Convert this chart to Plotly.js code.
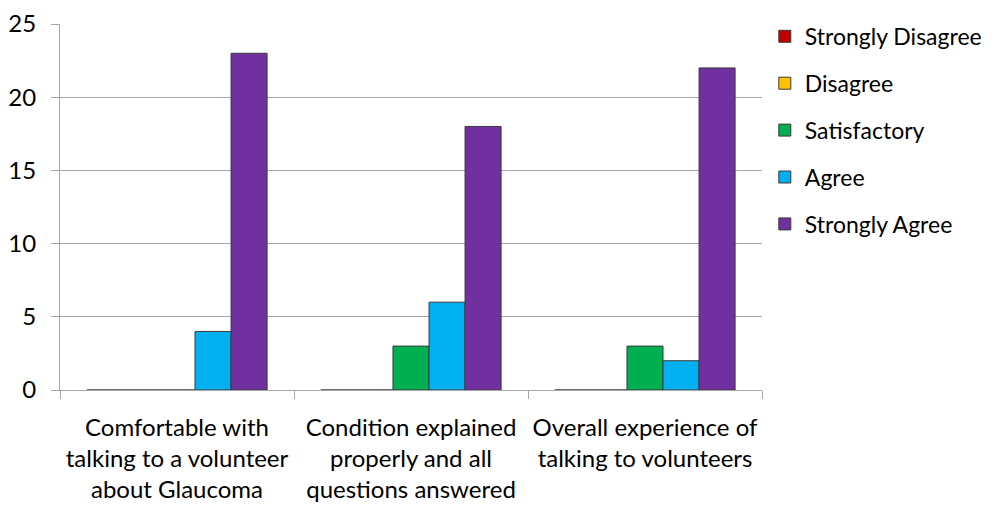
<!DOCTYPE html>
<html><head><meta charset="utf-8">
<script src="https://cdn.plot.ly/plotly-3.0.1.min.js"></script>
<style>html,body{margin:0;padding:0;background:#fff}</style>
</head><body><div id="chart" style="width:992px;height:509px"></div>
<script>
const categories = [
  "Comfortable with<br>talking to a volunteer<br>about Glaucoma",
  "Condition explained<br>properly and all<br>questions answered",
  "Overall experience of<br>talking to volunteers"
];
const seriesNames = ["Strongly Disagree", "Disagree", "Satisfactory", "Agree", "Strongly Agree"];
const stronglyDisagree = [0, 0, 0];
const disagree = [0, 0, 0];
const satisfactory = [0, 3, 3];
const agree = [4, 6, 2];
const stronglyAgree = [23, 18, 22];
const seriesValues = [stronglyDisagree, disagree, satisfactory, agree, stronglyAgree];
const colors = ["#C00000", "#FFC000", "#00B050", "#00B0F0", "#7030A0"];

const traces = seriesNames.map((n, i) => ({
  type: "bar", name: n, x: categories, y: seriesValues[i],
  legendgroup: "g" + i,
  marker: {color: colors[i], line: {color: "#3a3a3a", width: 1}}
}));

const font = "Lato, 'Open Sans', sans-serif";
Plotly.newPlot("chart", traces, {
  width: 992, height: 509,
  margin: {l: 60, r: 230, t: 24, b: 119, autoexpand: false},
  barmode: "group", bargap: 0.23, bargroupgap: 0,
  paper_bgcolor: "#fff", plot_bgcolor: "#fff",
  font: {family: font, size: 24, color: "#000"},
  showlegend: true,
  legend: {x: 1.004, xanchor: "left", y: 1.025, yanchor: "top", traceorder: "grouped",
    tracegroupgap: 14, font: {family: font, size: 23, color: "#000"}, itemwidth: 30},
  xaxis: {type: "category", showgrid: false, ticks: "outside", tickson: "boundaries",
    ticklen: 8, tickcolor: "#A6A6A6", showline: true, linecolor: "#A6A6A6",
    tickangle: 0, tickfont: {family: font, size: 24}, zeroline: false, ticklabelstandoff: 16},
  yaxis: {range: [0, 25], dtick: 5, showgrid: true, gridcolor: "#A6A6A6",
    showline: true, linecolor: "#A6A6A6", ticks: "outside", ticklen: 8,
    tickcolor: "#A6A6A6", zeroline: false, tickfont: {family: font, size: 24}, ticklabelstandoff: 10}
}, {displayModeBar: false, staticPlot: true});
</script></body></html>
